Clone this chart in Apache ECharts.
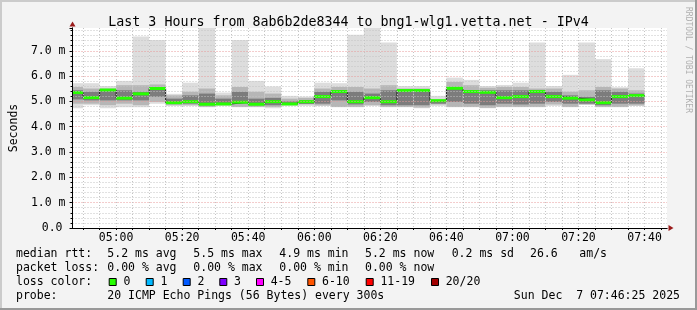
<!DOCTYPE html>
<html><head><meta charset="utf-8">
<script src="https://cdn.jsdelivr.net/npm/echarts@6/dist/echarts.min.js"></script>
<style>html,body{margin:0;padding:0;background:#f3f3f3}#c{width:697px;height:310px}</style>
</head><body><div id="c"></div>
<script>
// ---- data (ms) : one entry per 5-minute step, stamped with the step end time ----
const stepEnds = ['04:50','04:55','05:00','05:05','05:10','05:15','05:20','05:25','05:30','05:35','05:40','05:45','05:50','05:55','06:00','06:05','06:10','06:15','06:20','06:25','06:30','06:35','06:40','06:45','06:50','06:55','07:00','07:05','07:10','07:15','07:20','07:25','07:30','07:35','07:40'];
const median  = [5.35,5.15,5.45,5.13,5.30,5.51,4.95,4.99,4.89,4.90, 4.97,4.89,4.99,4.90,4.99,5.19,5.39,4.99,5.15,4.99, 5.43,5.43,5.03,5.52,5.39,5.36,5.15,5.19,5.39,5.19, 5.13,5.06,4.95,5.19,5.23];
const pingMin = [4.73,4.85,4.73,4.77,4.77,4.91,4.82,4.82,4.77,4.82, 4.77,4.77,4.73,4.82,4.82,4.82,4.77,4.77,4.82,4.77, 4.77,4.73,4.82,4.77,4.77,4.73,4.77,4.77,4.77,4.82, 4.77,4.86,4.77,4.77,4.82];
const pingMax = [5.72,5.72,5.61,5.81,7.56,7.43,5.30,5.74,7.90,5.35, 7.43,5.81,5.59,5.22,5.19,5.74,5.72,7.63,7.90,7.33, 5.61,5.61,5.22,5.94,5.85,5.61,5.65,5.74,7.33,5.61, 6.05,7.33,6.67,5.56,6.31];
const midLo   = [4.91,4.91,4.85,4.91,4.85,4.98,4.85,4.85,4.78,4.85, 4.78,4.78,4.78,4.88,4.88,4.84,4.78,4.78,4.85,4.78, 4.78,4.76,4.88,4.78,4.78,4.75,4.78,4.78,4.78,4.88, 4.78,4.88,4.78,4.78,4.84];
const midHi   = [5.57,5.51,5.51,5.64,5.64,5.67,5.24,5.38,5.51,5.24, 5.57,5.38,5.31,5.11,5.14,5.51,5.57,5.57,5.51,5.64, 5.51,5.51,5.08,5.77,5.64,5.54,5.57,5.57,5.51,5.51, 5.38,5.44,5.57,5.51,5.44];
const darkLo  = [5.08,5.04,5.04,5.04,5.04,5.18,4.91,4.91,4.85,4.88, 4.91,4.85,4.85,4.88,4.90,4.91,5.04,4.88,4.98,4.85, 4.85,4.85,4.91,4.98,4.91,4.85,4.91,4.88,4.91,4.98, 4.91,4.91,4.85,4.91,4.91];
const darkHi  = [5.44,5.38,5.48,5.44,5.38,5.57,5.11,5.24,5.31,5.11, 5.38,5.11,5.14,5.00,5.04,5.38,5.44,5.38,5.31,5.44, 5.44,5.45,5.04,5.57,5.44,5.44,5.44,5.44,5.38,5.38, 5.24,5.18,5.44,5.38,5.31];

const xTickLabels = ['05:00','05:20','05:40','06:00','06:20','06:40','07:00','07:20','07:40'];
const yTickValues = [0,1,2,3,4,5,6,7];
const rttStats  = [['avg',5.2],['max',5.5],['min',4.9],['now',5.2],['sd',0.2]];
const amPerSec  = 26.6;
const lossStats = [['avg',0.00],['max',0.00],['min',0.00],['now',0.00]];
const lossLegend = [['0','#26ff00'],['1','#00b8ff'],['2','#0059ff'],['3','#7e00ff'],['4-5','#ff00ff'],['6-10','#ff5500'],['11-19','#ff0000'],['20/20','#a10000']];
const titleText = 'Last 3 Hours from 8ab6b2de8344 to bng1-wlg1.vetta.net - IPv4';
const probeText = '20 ICMP Echo Pings (56 Bytes) every 300s';
const dateText  = 'Sun Dec  7 07:46:25 2025';

// ---- helpers ----
const toMin = s => { const [h,m] = s.split(':').map(Number); return h*60+m; };
const fmtTime = v => { const h = Math.floor(v/60), m = Math.round(v%60); return String(h).padStart(2,'0')+':'+String(m).padStart(2,'0'); };
const STEP = 5;
const X_MIN = 286.8, X_MAX = 466.8;
const majorX = xTickLabels.map(toMin);
const minorX = []; for (let t = 290; t <= 465; t += 5) minorX.push(t);

const smokeData = stepEnds.map((s,i) => [toMin(s), pingMin[i], pingMax[i], midLo[i], midHi[i], darkLo[i], darkHi[i], median[i]]);
const stepLine = [];
stepEnds.forEach((s,i) => { const t = toMin(s); stepLine.push([t-STEP, median[i]], [t, median[i]]); });

const MONO = '"DejaVu Sans Mono", monospace';
const chart = echarts.init(document.getElementById('c'), null, {renderer:'canvas'});

function rectFor(api, t0, t1, lo, hi, fill) {
  const a = api.coord([t0, hi]), b = api.coord([t1, lo]);
  return {type:'rect', shape:{x:a[0], y:a[1], width:b[0]-a[0], height:b[1]-a[1]}, style:{fill}};
}

const legendEls = [];
const txt = (x, y, text, extra) => legendEls.push(Object.assign({type:'text', x, y, style:Object.assign({text, font:'11.5px '+MONO, fill:'#000', verticalAlign:'middle', align:'left'}, extra||{})}));
const colX = [107.3, 193.3, 279.3, 365, 451.7];
txt(16, 254.5, 'median rtt:');
rttStats.forEach((r,i) => txt(colX[i], 254.5, r[1].toFixed(1)+' ms '+r[0]));
txt(530, 254.5, amPerSec.toFixed(1));
txt(579.3, 254.5, 'am/s');
txt(16, 268.5, 'packet loss:');
lossStats.forEach((r,i) => txt(colX[i], 268.5, r[1].toFixed(2)+' % '+r[0]));
txt(16, 282.5, 'loss color:');
const boxX = [108.7, 145.7, 182.7, 219.3, 256, 307.3, 365.7, 431];
lossLegend.forEach((l,i) => {
  legendEls.push({type:'rect', shape:{x:boxX[i]+0.5, y:278.5, width:7, height:7}, style:{fill:l[1], stroke:'#000', lineWidth:1}});
  txt(boxX[i]+14.7, 282.5, l[0]);
});
txt(16, 296.5, 'probe:');
txt(107.3, 296.5, probeText);
txt(680, 296.5, dateText, {align:'right'});
legendEls.push({type:'text', x:688, y:60, rotation:-Math.PI/2, style:{text:'RRDTOOL / TOBI OETIKER', font:'8px '+MONO, fill:'#b0b0b0', align:'center', verticalAlign:'middle'}});
// image border
legendEls.push({type:'rect', shape:{x:0,y:0,width:697,height:2}, style:{fill:'#cbcbcb'}, z:-1});
legendEls.push({type:'rect', shape:{x:0,y:0,width:2,height:310}, style:{fill:'#cbcbcb'}, z:-1});
legendEls.push({type:'rect', shape:{x:0,y:308,width:697,height:2}, style:{fill:'#999999'}, z:-1});
legendEls.push({type:'rect', shape:{x:695,y:0,width:2,height:310}, style:{fill:'#999999'}, z:-1});

const gridGray = '#c4c4c4', gridRed = '#e89a9a', arrowRed = '#9b1c1c';

chart.setOption({
  animation:false,
  backgroundColor:'#f3f3f3',
  title:{text:titleText, left:'center', top:11, textStyle:{fontFamily:MONO, fontSize:13.3, fontWeight:'normal', color:'#000'}},
  grid:{left:67, top:28, width:600, height:200, show:true, backgroundColor:'#ffffff', borderWidth:0},
  xAxis:[
    {type:'value', min:X_MIN, max:X_MAX, position:'bottom', z:5,
     axisLine:{show:true, onZero:false, lineStyle:{color:'#000', width:1}},
     axisTick:{show:true, customValues:minorX, length:2, lineStyle:{color:'#000'}},
     axisLabel:{show:false},
     splitLine:{show:true, lineStyle:{color:gridGray, width:1, type:[1,2]}}},
    {type:'value', min:X_MIN, max:X_MAX, position:'bottom', z:4,
     axisLine:{show:true, onZero:false, symbol:['none','triangle'], symbolSize:[6,5], symbolOffset:[0,4], lineStyle:{color:arrowRed, width:1}},
     axisTick:{show:false, customValues:majorX},
     axisLabel:{show:true, customValues:majorX, formatter:v => fmtTime(v), margin:4, fontFamily:MONO, fontSize:11.5, color:'#000'},
     splitLine:{show:true, lineStyle:{color:gridRed, width:1, type:[1,2]}}}
  ],
  yAxis:[
    {type:'value', min:0, max:7.9, interval:1, position:'left', z:5,
     name:'Seconds', nameLocation:'middle', nameRotate:90, nameGap:50,
     nameTextStyle:{fontFamily:MONO, fontSize:11.5, color:'#000'},
     axisLine:{show:true, onZero:false, lineStyle:{color:'#000', width:1}},
     axisTick:{show:true, length:3, lineStyle:{color:'#000'}},
     minorTick:{show:true, splitNumber:5, length:2, lineStyle:{color:'#000'}},
     axisLabel:{showMaxLabel:false, margin:7, fontFamily:MONO, fontSize:11.5, color:'#000',
       formatter:v => v === 0 ? '{z|0.0}' : v.toFixed(1)+' m',
       rich:{z:{fontFamily:MONO, fontSize:11.5, color:'#000', padding:[0,3,0,0]}}},
     splitLine:{show:true, showMaxLine:false, lineStyle:{color:gridRed, width:1, type:[1,2]}},
     minorSplitLine:{show:true, lineStyle:{color:gridGray, width:1, type:[1,2]}}},
    {type:'value', min:0, max:7.9, interval:1, position:'left', z:4,
     axisLine:{show:true, onZero:false, symbol:['none','triangle'], symbolSize:[6,5], symbolOffset:[0,4], lineStyle:{color:arrowRed, width:1}},
     axisTick:{show:false}, axisLabel:{show:false}, splitLine:{show:false}}
  ],
  graphic:{elements:legendEls},
  series:[
    {type:'custom', xAxisIndex:0, yAxisIndex:0, clip:true, z:2, data:smokeData,
     encode:{x:0, y:[1,2]},
     renderItem:(params, api) => {
       const t1 = api.value(0), t0 = t1 - STEP;
       return {type:'group', children:[
         rectFor(api, t0, t1, api.value(1), api.value(2), '#dddddd'),
         rectFor(api, t0, t1, api.value(3), api.value(4), '#b6b6b6'),
         rectFor(api, t0, t1, api.value(5), api.value(6), '#7c7c7c')
       ]};
     }},
    {type:'line', xAxisIndex:0, yAxisIndex:0, data:stepLine, symbol:'none', z:3, clip:true,
     lineStyle:{color:'#202020', width:1}},
    {type:'custom', xAxisIndex:0, yAxisIndex:0, clip:true, z:4, data:smokeData,
     encode:{x:0, y:7},
     renderItem:(params, api) => {
       const t1 = api.value(0), t0 = t1 - STEP;
       const a = api.coord([t0, api.value(7)]), b = api.coord([t1, api.value(7)]);
       return {type:'rect', shape:{x:a[0], y:a[1]-1.5, width:b[0]-a[0], height:3}, style:{fill:'#26ff00'}};
     }}
  ]
});
</script></body></html>
